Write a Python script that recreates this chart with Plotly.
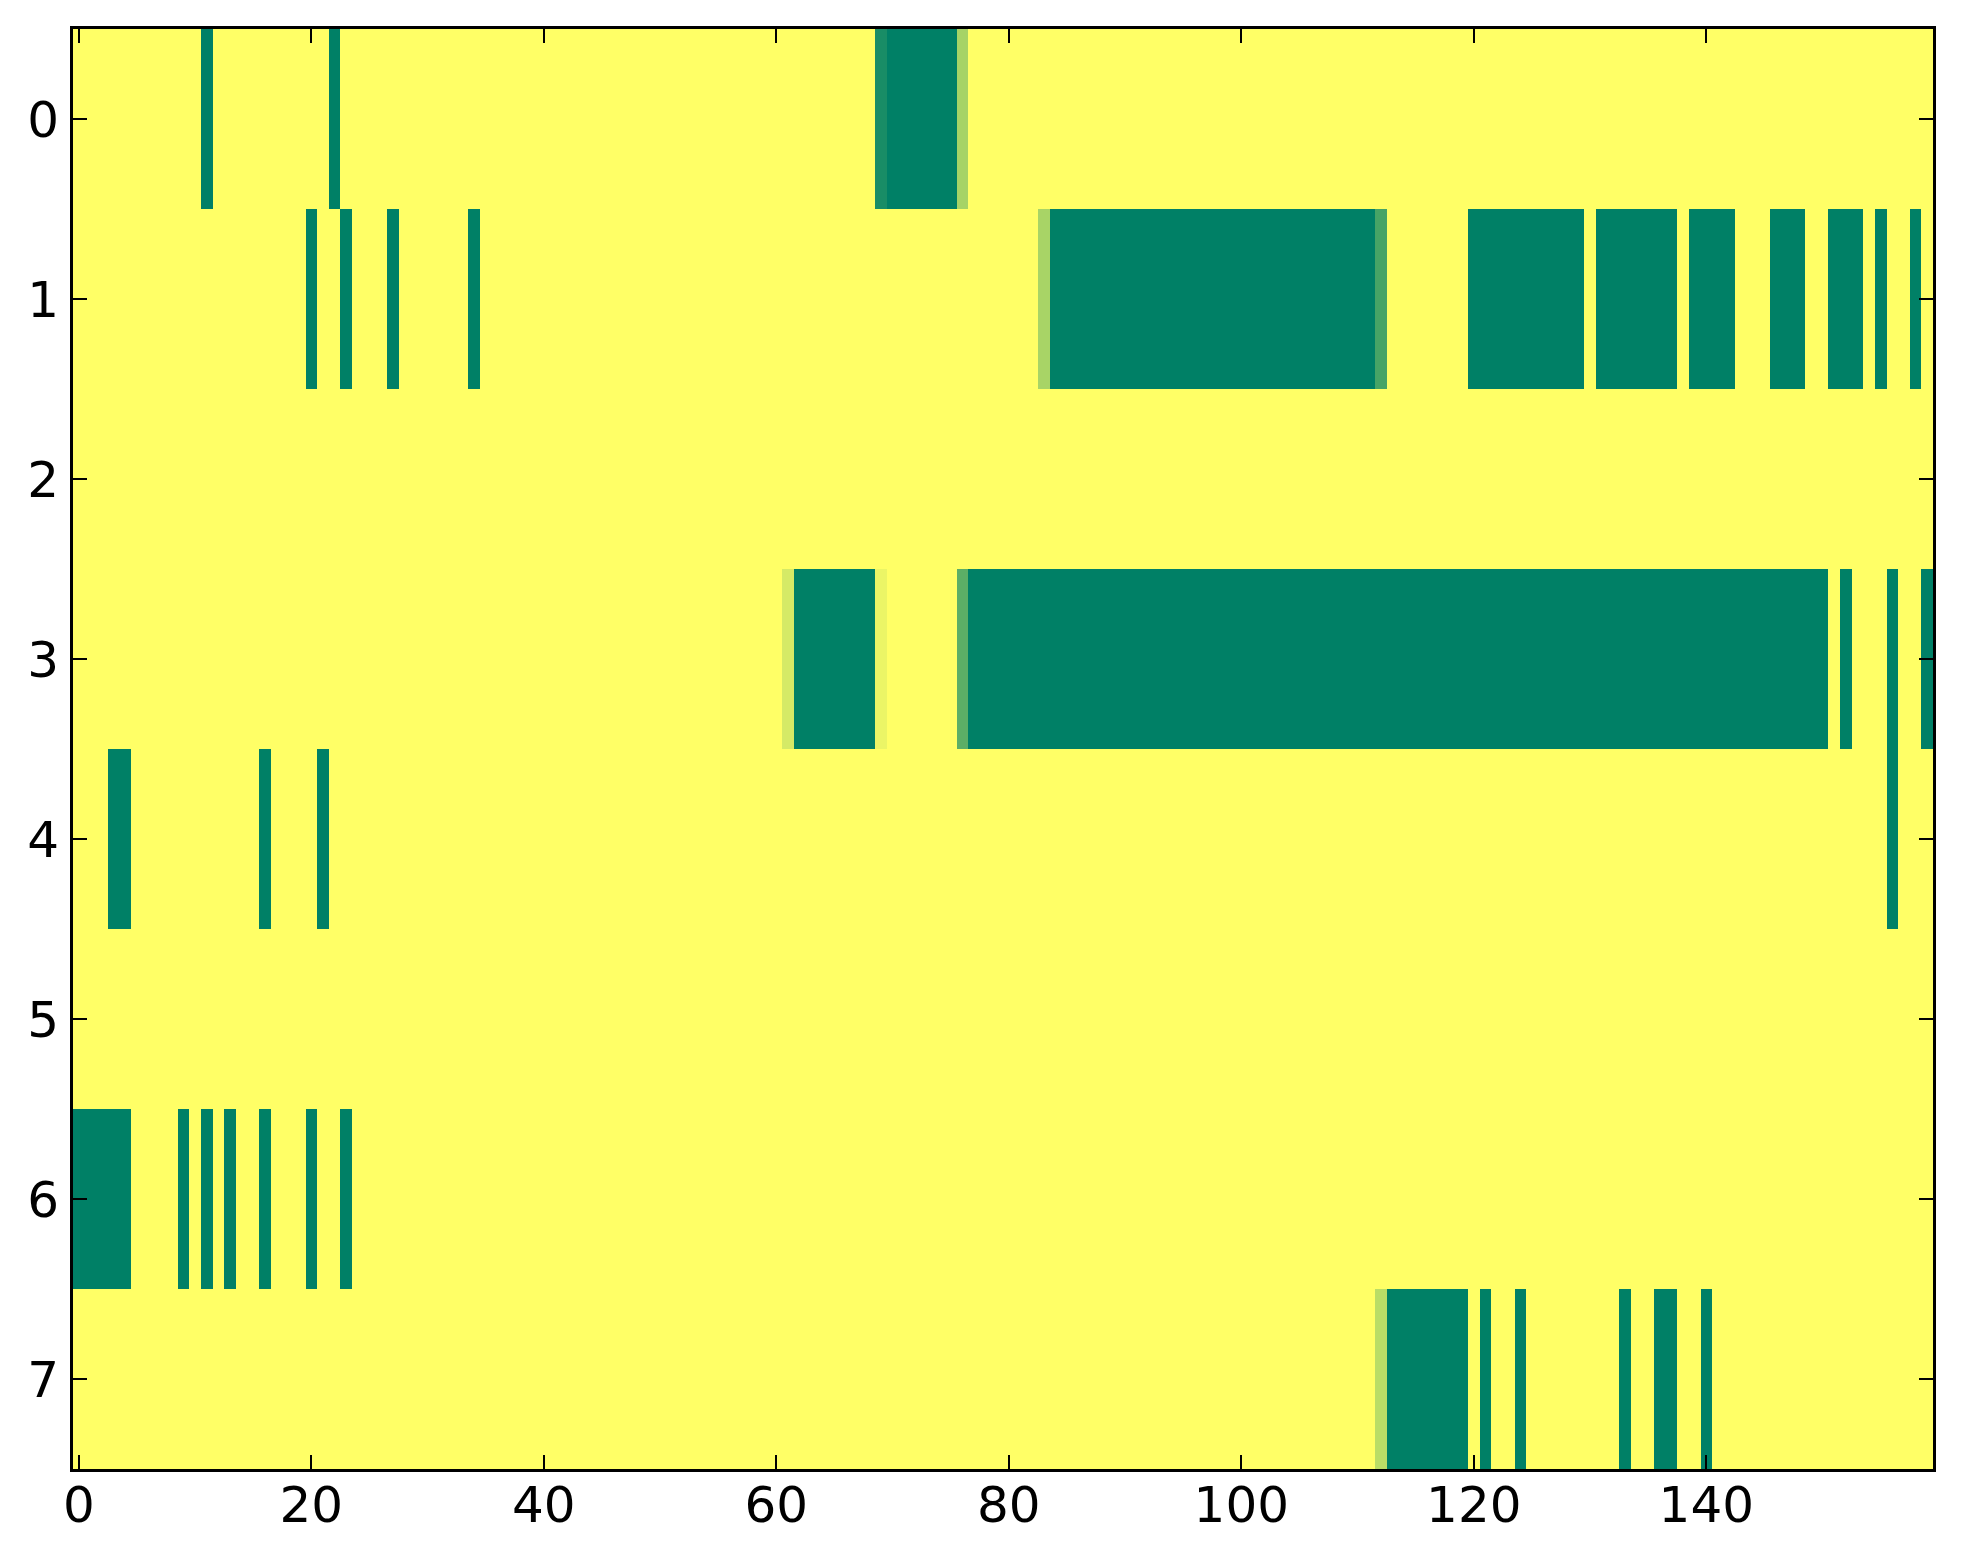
import numpy as np
import plotly.graph_objects as go

# Grid size
n_rows = 8
n_cols = 160

# Runs per row: (first column, last column, value)
row0 = [(11, 11, 1.0), (22, 22, 1.0), (69, 69, 0.9), (70, 75, 1.0), (76, 76, 0.35)]
row1 = [(20, 20, 1.0), (23, 23, 1.0), (27, 27, 1.0), (34, 34, 1.0), (83, 83, 0.34),
        (84, 111, 1.0), (112, 112, 0.72), (120, 129, 1.0), (131, 137, 1.0),
        (139, 142, 1.0), (146, 148, 1.0), (151, 153, 1.0), (155, 155, 1.0), (158, 158, 1.0)]
row2 = []
row3 = [(61, 61, 0.165), (62, 68, 1.0), (69, 69, 0.08), (76, 76, 0.64), (77, 150, 1.0),
        (152, 152, 1.0), (156, 156, 1.0), (159, 159, 1.0)]
row4 = [(3, 4, 1.0), (16, 16, 1.0), (21, 21, 1.0), (156, 156, 1.0)]
row5 = []
row6 = [(0, 4, 1.0), (9, 9, 1.0), (11, 11, 1.0), (13, 13, 1.0), (16, 16, 1.0),
        (20, 20, 1.0), (23, 23, 1.0)]
row7 = [(112, 112, 0.27), (113, 119, 1.0), (121, 121, 1.0), (124, 124, 1.0),
        (133, 133, 1.0), (136, 137, 1.0), (140, 140, 1.0)]

rows = [row0, row1, row2, row3, row4, row5, row6, row7]

x_ticks = [0, 20, 40, 60, 80, 100, 120, 140]
y_ticks = [0, 1, 2, 3, 4, 5, 6, 7]

z = np.zeros((n_rows, n_cols))
for r, runs in enumerate(rows):
    for a, b, v in runs:
        z[r, a:b + 1] = v

summer_r = [[0.0, "#FFFF66"], [1.0, "#008066"]]

fig = go.Figure(
    go.Heatmap(
        z=z,
        x=list(range(n_cols)),
        y=list(range(n_rows)),
        colorscale=summer_r,
        zmin=0,
        zmax=1,
        showscale=False,
        zsmooth=False,
        hoverinfo="skip",
    )
)

axis_common = dict(
    showline=True,
    linecolor="black",
    linewidth=3,
    mirror="allticks",
    ticks="inside",
    ticklen=14,
    tickwidth=1.5,
    tickcolor="black",
    showgrid=False,
    zeroline=False,
    automargin=False,
    tickfont=dict(family="DejaVu Sans", size=50, color="black"),
)

fig.update_layout(
    width=1955,
    height=1556,
    margin=dict(l=65, r=30, t=21, b=95),
    paper_bgcolor="white",
    plot_bgcolor="white",
    xaxis=dict(range=[-0.5, 159.5], tickvals=x_ticks, ticktext=[str(t) for t in x_ticks],
               ticklabelstandoff=-10, **axis_common),
    yaxis=dict(range=[7.5, -0.5], tickvals=y_ticks, ticktext=[str(t) for t in y_ticks],
               ticklabelstandoff=1, **axis_common),
)

fig.write_html("out.html")
